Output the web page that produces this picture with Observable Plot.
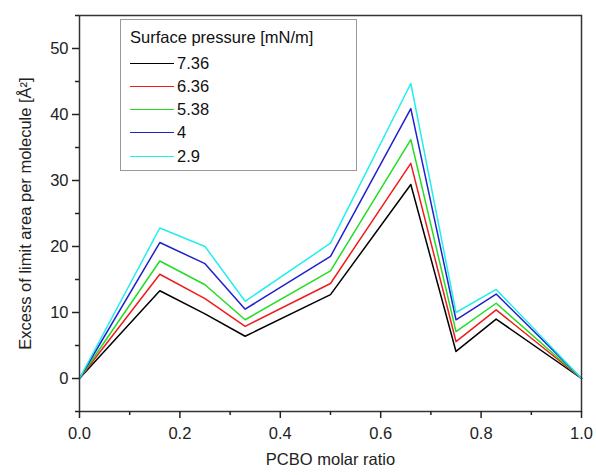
<!DOCTYPE html>
<html>
<head>
<meta charset="utf-8">
<script src="https://cdn.jsdelivr.net/npm/d3@7"></script>
<script src="https://cdn.jsdelivr.net/npm/@observablehq/plot@0.6"></script>
<style>
  body { margin: 0; background: #fff; font-family: "Liberation Sans", Arial, sans-serif; }
  #wrap { position: relative; width: 596px; height: 475px; }
  #legend { position: absolute; left: 120px; top: 19px; width: 237px; height: 152px;
    border: 1px solid #999; background: #fff; box-sizing: border-box; font-size: 16.5px; color: #111; }
  #legend .title { position: absolute; left: 9px; top: 8px; white-space: nowrap; }
  #legend .row { position: absolute; left: 9px; height: 20px; display: flex; align-items: center; }
  #legend .sw { width: 44px; height: 0; border-top: 1.5px solid; margin-right: 3px; }
</style>
</head>
<body>
<div id="wrap"><div id="legend"></div></div>
<script>
const ratios = [0, 0.16, 0.25, 0.33, 0.5, 0.66, 0.75, 0.83, 1.0];
const pressures = ["7.36", "6.36", "5.38", "4", "2.9"];
const colors = ["#000000", "#ee1c1c", "#22dd22", "#2020cc", "#22eeee"];
const s736 = [0, 13.3, 9.8, 6.4, 12.7, 29.4, 4.1, 9.0, 0];
const s636 = [0, 15.8, 12.1, 7.9, 14.4, 32.6, 5.6, 10.4, 0];
const s538 = [0, 17.8, 14.2, 8.9, 16.3, 36.2, 7.1, 11.4, 0];
const s4   = [0, 20.6, 17.4, 10.5, 18.5, 40.9, 8.9, 12.8, 0];
const s29  = [0, 22.8, 20.0, 11.7, 20.5, 44.7, 10.0, 13.5, 0];
const xMajor = [0, 0.2, 0.4, 0.6, 0.8, 1.0];
const xMinor = [0.1, 0.3, 0.5, 0.7, 0.9];
const yMajor = [0, 10, 20, 30, 40, 50];
const yMinor = [-5, 5, 15, 25, 35, 45, 55];

const seriesList = [s736, s636, s538, s4, s29];
const data = [];
seriesList.forEach((s, i) => s.forEach((v, j) => data.push({x: ratios[j], y: v, p: pressures[i]})));

const chart = Plot.plot({
  width: 596,
  height: 475,
  marginLeft: 79,
  marginRight: 15,
  marginTop: 15,
  marginBottom: 64,
  style: {fontFamily: "Liberation Sans, Arial, sans-serif", fontSize: "16px", color: "#222", background: "#fff"},
  x: {domain: [0, 1]},
  y: {domain: [-5, 55]},
  color: {domain: pressures, range: colors},
  marks: [
    Plot.line(data, {x: "x", y: "y", z: "p", stroke: "p", strokeWidth: 1.5}),
    Plot.frame({stroke: "#333", strokeWidth: 1.5}),
    Plot.axisX({ticks: xMajor, tickSize: 7, tickPadding: 9, tickFormat: d3.format(".1f"), label: null, stroke: "#222", strokeWidth: 1.5, fontSize: 16.5}),
    Plot.axisX({ticks: xMinor, tickSize: 4, tickFormat: () => "", label: null, stroke: "#222", strokeWidth: 1.5}),
    Plot.axisY({ticks: yMajor, tickSize: 7, tickPadding: 4, label: null, stroke: "#222", strokeWidth: 1.5, fontSize: 16.5}),
    Plot.axisY({ticks: yMinor, tickSize: 4, tickFormat: () => "", label: null, stroke: "#222", strokeWidth: 1.5}),
    Plot.text(["PCBO molar ratio"], {frameAnchor: "bottom", dy: 53, fontSize: 16.5, fill: "#222"}),
    Plot.text(["Excess of limit area per molecule [Å²]"], {frameAnchor: "left", textAnchor: "middle", dx: -54, rotate: -90, fontSize: 16.5, fill: "#222"})
  ]
});
document.getElementById("wrap").prepend(chart);

const lg = document.getElementById("legend");
const t = document.createElement("div");
t.className = "title";
t.textContent = "Surface pressure [mN/m]";
lg.appendChild(t);
pressures.forEach((p, i) => {
  const r = document.createElement("div");
  r.className = "row";
  r.style.top = (33 + i * 23.3) + "px";
  const sw = document.createElement("span");
  sw.className = "sw";
  sw.style.borderColor = colors[i];
  const lab = document.createElement("span");
  lab.textContent = p;
  r.appendChild(sw); r.appendChild(lab);
  lg.appendChild(r);
});
</script>
</body>
</html>
